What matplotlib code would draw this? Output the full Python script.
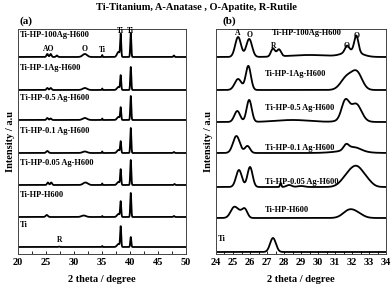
import numpy as np
import matplotlib.pyplot as plt
from matplotlib.ticker import MultipleLocator

plt.rcParams['font.family'] = ['Liberation Serif', 'DejaVu Serif']
plt.rcParams['font.weight'] = 'bold'

SAMPLES = ["Ti-HP-100Ag-H600", "Ti-HP-1Ag-H600", "Ti-HP-0.5 Ag-H600",
           "Ti-HP-0.1 Ag-H600", "Ti-HP-0.05 Ag-H600", "Ti-HP-H600", "Ti"]

# panel (a): vertical offset of each pattern and its peaks (2theta, height, width)
A_OFFSETS = [197, 164, 134, 101, 69, 37, 7]
A_PEAKS = [
    [(25.3, 3, 0.15), (25.9, 3, 0.15), (27.0, 1.5, 0.15), (32.0, 3, 0.4), (35.1, 2, 0.06),
     (38.0, 5, 0.25), (38.4, 22, 0.09), (40.2, 24, 0.09), (47.9, 1.5, 0.1)],
    [(25.3, 2, 0.15), (25.9, 2, 0.15), (32.0, 2, 0.4), (35.1, 1.5, 0.06),
     (38.0, 3, 0.25), (38.4, 14, 0.09), (40.2, 23, 0.09)],
    [(25.3, 2, 0.15), (25.9, 1.5, 0.15), (32.0, 2, 0.4), (35.1, 1.5, 0.06),
     (38.0, 3, 0.25), (38.4, 12, 0.09), (40.2, 24, 0.09)],
    [(25.3, 2, 0.2), (32.0, 1.5, 0.4), (35.1, 1.5, 0.06),
     (38.0, 3, 0.25), (38.4, 11, 0.09), (40.2, 25, 0.09), (47.9, 1, 0.1)],
    [(25.4, 2.5, 0.15), (26.0, 2.5, 0.15), (32.1, 2.5, 0.4), (35.1, 1.5, 0.06),
     (38.0, 3, 0.25), (38.4, 15, 0.09), (40.2, 25, 0.09), (48.0, 1, 0.1)],
    [(25.2, 2, 0.2), (31.8, 1.5, 0.4), (35.1, 1, 0.06),
     (38.0, 3, 0.25), (38.4, 15, 0.09), (40.2, 24, 0.09), (47.9, 1, 0.1)],
    [(27.4, 0.5, 0.1), (35.1, 1, 0.06), (38.0, 3, 0.25), (38.4, 20, 0.09), (40.2, 10, 0.09)],
]

# panel (b): zoom 24-34 degrees
B_OFFSETS = [197, 164, 132, 101, 67, 36, 2]
B_PEAKS = [
    [(25.3, 20, 0.17), (25.95, 18, 0.17), (27.35, 8, 0.12), (27.7, 7, 0.12),
     (29.5, 2, 1.2), (32.0, 6, 0.5), (31.7, 6, 0.12), (32.25, 16, 0.12)],
    [(25.3, 11, 0.2), (25.9, 24, 0.15), (31.7, 13, 0.35), (32.3, 16, 0.3)],
    [(25.25, 11, 0.17), (25.95, 22, 0.15), (28.5, 2, 1.0),
     (31.9, 4, 0.5), (31.6, 18, 0.22), (32.25, 15, 0.3)],
    [(25.2, 17, 0.2), (25.85, 7, 0.15), (31.65, 5, 0.15), (31.8, 2, 0.8), (32.1, 4, 0.4)],
    [(25.35, 17, 0.17), (26.0, 20, 0.15), (27.8, 4, 0.04), (28.3, 2, 0.15), (29.0, 1, 0.2),
     (31.8, 12, 0.4), (32.35, 15, 0.35), (32.9, 5, 0.3)],
    [(25.05, 10, 0.2), (25.4, 5, 0.2), (25.7, 8, 0.15), (31.8, 7, 0.35), (32.3, 4, 0.35)],
    [(27.35, 14, 0.17)],
]
B_LABEL_X = [27.3, 26.9, 26.9, 26.9, 26.9, 26.9, 24.1]
B_LABEL_DY = [24, 16, 14, 5, 5, 8, 13]


def pattern(x, peaks):
    y = np.zeros_like(x)
    for c, h, w in peaks:
        y += h * np.exp(-0.5 * ((x - c) / w) ** 2)
    return y


def style(ax, xlim, major, minor):
    ax.set_xlim(*xlim)
    ax.set_ylim(0, 225)
    ax.set_yticks([])
    ax.xaxis.set_major_locator(MultipleLocator(major))
    ax.xaxis.set_minor_locator(MultipleLocator(minor))
    ax.tick_params(axis='x', direction='in', length=2.5, width=0.6, labelsize=7.5, pad=3)
    ax.tick_params(axis='x', which='minor', direction='in', length=2, width=0.6)
    for s in ax.spines.values():
        s.set_linewidth(0.7)
        s.set_color('#444444')
    ax.set_xlabel("2 theta / degree", fontsize=7.5, fontweight='bold', labelpad=6)
    ax.set_ylabel("Intensity / a.u", fontsize=7.5, fontweight='bold', labelpad=2)


fig = plt.figure(figsize=(3.92, 2.87), dpi=100)
ax1 = fig.add_axes([0.045, 0.115, 0.4286, 0.784])
ax2 = fig.add_axes([0.551, 0.115, 0.434, 0.784])

xa = np.linspace(20, 50, 3000)
for name, off, peaks in zip(SAMPLES, A_OFFSETS, A_PEAKS):
    ax1.plot(xa, off + pattern(xa, peaks), color='black', lw=1.3)
    ax1.text(20.4, off + 22, name, fontsize=6, fontweight='bold', va='center', ha='left')
style(ax1, (20, 50), 5, 2.5)
ax1.text(25.6, 201, "AO", fontsize=5.5, ha='center', va='bottom')
ax1.text(32.0, 201, "O", fontsize=5.5, ha='center', va='bottom')
ax1.text(35.2, 200, "Ti", fontsize=5.5, ha='center', va='bottom')
ax1.text(38.4, 219, "Ti", fontsize=5.5, ha='center', va='bottom')
ax1.text(40.2, 219, "Ti", fontsize=5.5, ha='center', va='bottom')
ax1.text(27.4, 10, "R", fontsize=5.5, ha='center', va='bottom')
ax1.text(20.4, 228, "(a)", fontsize=8, fontweight='bold', ha='left', va='bottom')

xb = np.linspace(24, 34, 2000)
for name, off, peaks, lx, dy in zip(SAMPLES, B_OFFSETS, B_PEAKS, B_LABEL_X, B_LABEL_DY):
    ax2.plot(xb, off + pattern(xb, peaks), color='black', lw=1.3)
    ax2.text(lx, off + dy, name, fontsize=6, fontweight='bold', va='center', ha='left')
style(ax2, (24, 34), 1, 0.5)
ax2.text(25.3, 217, "A", fontsize=5.5, ha='center', va='bottom')
ax2.text(25.95, 215, "O", fontsize=5.5, ha='center', va='bottom')
ax2.text(27.4, 204, "R", fontsize=5.5, ha='center', va='bottom')
ax2.text(31.65, 204, "O", fontsize=5.5, ha='center', va='bottom')
ax2.text(32.25, 214, "O", fontsize=5.5, ha='center', va='bottom')
ax2.text(24.4, 228, "(b)", fontsize=8, fontweight='bold', ha='left', va='bottom')

fig.text(0.5, 0.99, "Ti-Titanium, A-Anatase , O-Apatite, R-Rutile",
         fontsize=7.5, fontweight='bold', ha='center', va='top')

fig.savefig("out.png", dpi=100)
